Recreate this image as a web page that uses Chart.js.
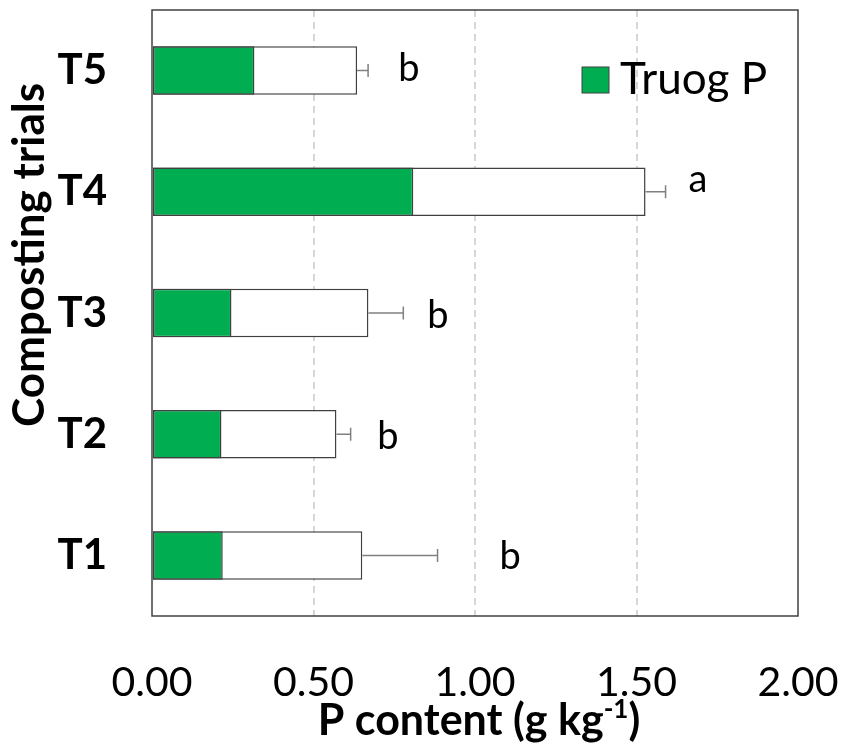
<!DOCTYPE html>
<html>
<head>
<meta charset="utf-8">
<script src="https://cdn.jsdelivr.net/npm/chart.js@4.4.1/dist/chart.umd.min.js"></script>
<style>
  html, body { margin: 0; padding: 0; background: #ffffff; }
  #wrap { width: 845px; height: 747px; position: relative; }
</style>
</head>
<body>
<div id="wrap"><canvas id="chart"></canvas></div>
<script>
// Composting trials, bottom (T1) to top (T5)
const trials = ['T1', 'T2', 'T3', 'T4', 'T5'];
// Truog-extractable P (g kg-1)
const truogP = [0.219, 0.215, 0.246, 0.809, 0.317];
// Total P content (g kg-1)
const totalP = [0.651, 0.571, 0.670, 1.528, 0.635];
// Standard error of total P
const totalErr = [0.233, 0.044, 0.108, 0.062, 0.034];
// Significance letters
const sigLetters = ['b', 'b', 'b', 'a', 'b'];
// X-axis ticks
const xTicks = [0, 0.5, 1, 1.5, 2];

const FONT = 'Lato, "Open Sans", sans-serif';
const GREEN = '#00ad50';
const EDGE = '#404040';

// Frame around the plotting area
const framePlugin = {
  id: 'frame',
  afterDraw(chart) {
    const { ctx, chartArea: a } = chart;
    ctx.save();
    ctx.strokeStyle = EDGE;
    ctx.lineWidth = 1.5;
    ctx.strokeRect(a.left, a.top, a.right - a.left, a.bottom - a.top);
    ctx.restore();
  }
};

// Error bars on the total P bars and significance letters
const errorPlugin = {
  id: 'errorBars',
  afterDatasetsDraw(chart, args, opts) {
    const { ctx, scales: { x, y } } = chart;
    ctx.save();
    ctx.strokeStyle = '#808080';
    ctx.lineWidth = 1.5;
    totalP.forEach((v, i) => {
      const yc = y.getPixelForValue(i);
      const x0 = x.getPixelForValue(v);
      const x1 = x.getPixelForValue(v + totalErr[i]);
      ctx.beginPath();
      ctx.moveTo(x0, yc);
      ctx.lineTo(x1, yc);
      ctx.moveTo(x1, yc - 6.5);
      ctx.lineTo(x1, yc + 6.5);
      ctx.stroke();
    });
    ctx.fillStyle = '#000000';
    ctx.font = '38px ' + FONT;
    ctx.textAlign = 'center';
    ctx.textBaseline = 'alphabetic';
    sigLetters.forEach((s, i) => {
      const yc = y.getPixelForValue(i);
      ctx.fillText(s, x.getPixelForValue(opts.letterX[i]), yc + opts.letterDy[i]);
    });
    ctx.restore();
  }
};

// Legend box, axis titles
const textPlugin = {
  id: 'texts',
  afterDraw(chart) {
    const { ctx } = chart;
    ctx.save();
    // legend
    ctx.fillStyle = GREEN;
    ctx.fillRect(582, 67, 27, 26);
    ctx.strokeStyle = EDGE;
    ctx.lineWidth = 1;
    ctx.strokeRect(582, 67, 27, 26);
    ctx.fillStyle = '#000000';
    ctx.font = '44px ' + FONT;
    ctx.textAlign = 'left';
    ctx.textBaseline = 'alphabetic';
    ctx.fillText('Truog P', 620, 94);

    // y-axis title
    ctx.save();
    ctx.translate(44, 255);
    ctx.rotate(-Math.PI / 2);
    ctx.font = 'bold 44px ' + FONT;
    ctx.textAlign = 'center';
    ctx.fillText('Composting trials', 0, 0);
    ctx.restore();

    // x-axis title with superscript
    const main1 = 'P content (g kg';
    const sup = '-1';
    const main2 = ')';
    const fMain = 'bold 43px ' + FONT;
    const fSup = 'bold 26px ' + FONT;
    ctx.font = fMain;
    const w1 = ctx.measureText(main1).width;
    const w3 = ctx.measureText(main2).width;
    ctx.font = fSup;
    const w2 = ctx.measureText(sup).width;
    const total = w1 + w2 + w3;
    let xx = 479 - total / 2;
    const base = 735;
    ctx.textAlign = 'left';
    ctx.font = fMain;
    ctx.fillText(main1, xx, base);
    xx += w1;
    ctx.font = fSup;
    ctx.fillText(sup, xx, base - 17);
    xx += w2;
    ctx.font = fMain;
    ctx.fillText(main2, xx, base);
    ctx.restore();
  }
};

function noPad(scale) {
  scale.paddingTop = 0;
  scale.paddingBottom = 0;
  scale.paddingLeft = 0;
  scale.paddingRight = 0;
}

new Chart(document.getElementById('chart'), {
  type: 'bar',
  data: {
    labels: trials,
    datasets: [
      {
        label: 'Truog P',
        data: truogP,
        backgroundColor: GREEN,
        borderColor: EDGE,
        borderWidth: 1.5,
        borderSkipped: false,
        grouped: false,
        barPercentage: 0.8,
        categoryPercentage: 0.5
      },
      {
        label: 'Total P',
        data: totalP,
        backgroundColor: '#ffffff',
        borderColor: EDGE,
        borderWidth: 1.5,
        borderSkipped: false,
        grouped: false,
        barPercentage: 0.8,
        categoryPercentage: 0.5
      }
    ]
  },
  options: {
    indexAxis: 'y',
    responsive: true,
    maintainAspectRatio: false,
    animation: false,
    layout: { padding: { top: 10, right: 47, left: 0, bottom: 0 }, autoPadding: false },
    plugins: {
      legend: { display: false },
      tooltip: { enabled: false },
      errorBars: {
        letterX: [1.109, 0.730, 0.885, 1.690, 0.795],
        letterDy: [14, 15, 15, 0, 10]
      }
    },
    scales: {
      x: {
        type: 'linear',
        min: 0,
        max: 2,
        afterBuildTicks(scale) { scale.ticks = xTicks.map(v => ({ value: v })); },
        afterFit(scale) { scale.height = 131; noPad(scale); },
        grid: {
          drawTicks: false,
          lineWidth: 2,
          color: ctx => (ctx.tick && (ctx.tick.value === 0 || ctx.tick.value === 2)) ? 'rgba(0,0,0,0)' : '#d6d6d6'
        },
        border: { display: false, dash: [7, 5] },
        ticks: {
          padding: 42,
          color: '#000000',
          font: { family: FONT, size: 41 },
          callback: v => Number(v).toFixed(2)
        }
      },
      y: {
        reverse: true,
        afterFit(scale) { scale.width = 152; noPad(scale); },
        border: { display: false },
        grid: { display: false, drawTicks: false },
        ticks: {
          padding: 45,
          color: '#000000',
          font: { family: FONT, size: 42, weight: 'bold' }
        }
      }
    }
  },
  plugins: [framePlugin, errorPlugin, textPlugin]
});
</script>
</body>
</html>
